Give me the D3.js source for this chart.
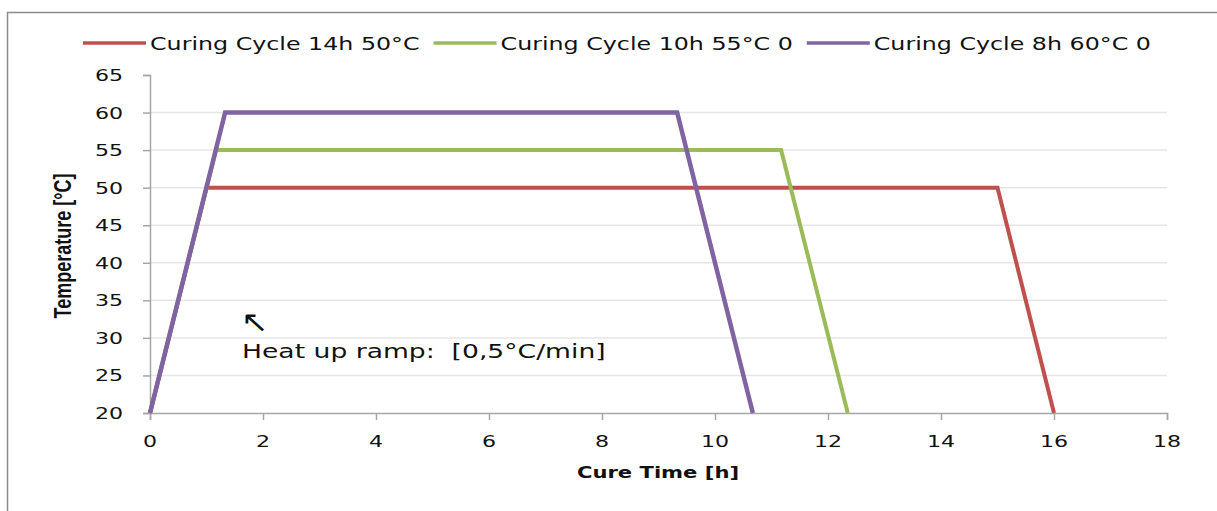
<!DOCTYPE html>
<html>
<head>
<meta charset="utf-8">
<script src="https://cdn.jsdelivr.net/npm/d3@7"></script>
<style>
  html, body { margin: 0; padding: 0; background: #fff; }
  svg { display: block; }
  text { fill: #111; }
</style>
</head>
<body>
<svg id="chart"></svg>
<script>
// series: time [h] and temperature [°C] at each corner
const seriesNames = ["Curing Cycle 14h 50°C", "Curing Cycle 10h 55°C 0", "Curing Cycle 8h 60°C 0"];
const seriesColors = ["#c0504d", "#9bbb59", "#8064a2"];
const timeRed = [0, 1, 15, 16];
const tempRed = [20, 50, 50, 20];
const timeGreen = [0, 1.17, 11.17, 12.35];
const tempGreen = [20, 55, 55, 20];
const timePurple = [0, 1.33, 9.33, 10.67];
const tempPurple = [20, 60, 60, 20];
const xTicks = [0, 2, 4, 6, 8, 10, 12, 14, 16, 18];
const yTicks = [20, 25, 30, 35, 40, 45, 50, 55, 60, 65];
const annotation = "Heat up ramp:  [0,5°C/min]";

const W = 1217, H = 511;
// the source picture is stretched sideways, so text is widened a bit
const stretch = 1.32;

const svg = d3.select("#chart").attr("width", W).attr("height", H);

const x = d3.scaleLinear().domain([0, 18]).range([150, 1167]);
const y = d3.scaleLinear().domain([20, 65]).range([413, 75]);

// outer frame (right and bottom edges fall outside the picture)
svg.append("rect")
  .attr("x", 7.5).attr("y", 12.5)
  .attr("width", W + 20).attr("height", H + 20)
  .attr("fill", "none")
  .attr("stroke", "#8c8c8c")
  .attr("stroke-width", 1.5);

function stretchedText(parent, px, py, str, anchor, sx) {
  return parent.append("text")
    .attr("transform", `translate(${px},${py}) scale(${sx || stretch},1)`)
    .attr("text-anchor", anchor || "start")
    .style("white-space", "pre")
    .text(str);
}

// horizontal grid lines (none on top value)
svg.append("g")
  .selectAll("line")
  .data(yTicks.filter((t) => t > 20 && t < 65))
  .join("line")
  .attr("x1", x(0)).attr("x2", x(18))
  .attr("y1", (d) => y(d)).attr("y2", (d) => y(d))
  .attr("stroke", "#e6e6e6")
  .attr("stroke-width", 1.5);

// y axis
const yAxis = svg.append("g")
  .attr("transform", `translate(${x(0)},0)`)
  .call(d3.axisLeft(y).tickValues(yTicks).tickSize(7).tickFormat(() => ""));
yAxis.select(".domain").attr("stroke", "#a6a6a6").attr("stroke-width", 1.5);
yAxis.selectAll(".tick line").attr("stroke", "#a6a6a6").attr("stroke-width", 1.5);

const yLabels = svg.append("g")
  .style("font-family", "'DejaVu Sans', Verdana, sans-serif")
  .style("font-size", "16px");
yTicks.forEach((t) => stretchedText(yLabels, 123, y(t) + 6, String(t), "end", 1.38));

// x axis
const xAxis = svg.append("g")
  .attr("transform", `translate(0,${y(20)})`)
  .call(d3.axisBottom(x).tickValues(xTicks).tickSize(7).tickSizeOuter(7).tickFormat(() => ""));
xAxis.select(".domain").attr("stroke", "#a6a6a6").attr("stroke-width", 1.5);
xAxis.selectAll(".tick line").attr("stroke", "#a6a6a6").attr("stroke-width", 1.5);

const xLabels = svg.append("g")
  .style("font-family", "'DejaVu Sans', Verdana, sans-serif")
  .style("font-size", "16px");
xTicks.forEach((t) => stretchedText(xLabels, x(t), 447, String(t), "middle", 1.38));

// axis titles
svg.append("text")
  .attr("transform", `translate(658,478) scale(${stretch},1)`)
  .attr("text-anchor", "middle")
  .style("font-family", "'DejaVu Sans', Verdana, sans-serif")
  .style("font-weight", "bold")
  .style("font-size", "16px")
  .text("Cure Time [h]");

svg.append("text")
  .attr("transform", `translate(71,246) scale(${stretch},1) rotate(-90)`)
  .attr("text-anchor", "middle")
  .style("font-family", "'Liberation Sans', Arial, sans-serif")
  .style("font-weight", "bold")
  .style("font-size", "18px")
  .text("Temperature [°C]");

// series lines
const line = d3.line()
  .x((d) => x(d[0]))
  .y((d) => y(d[1]));

const series = [
  d3.zip(timeRed, tempRed),
  d3.zip(timeGreen, tempGreen),
  d3.zip(timePurple, tempPurple)
];
const widths = [4, 4, 4.5];

svg.append("g")
  .selectAll("path")
  .data(series)
  .join("path")
  .attr("d", line)
  .attr("fill", "none")
  .attr("stroke", (d, i) => seriesColors[i])
  .attr("stroke-width", (d, i) => widths[i])
  .attr("stroke-linejoin", "miter");

// annotation
const note = svg.append("g")
  .style("font-family", "'DejaVu Sans', Verdana, sans-serif")
  .style("font-size", "19px");
stretchedText(note, 241, 332, "↖", "start", 1.1).style("font-size", "30px");
stretchedText(note, 242, 358, annotation, "start", 1.4);

// legend, laid out from left to right
const legend = svg.append("g")
  .style("font-family", "'DejaVu Sans', Verdana, sans-serif")
  .style("font-size", "18px");
let lx = 83;
seriesNames.forEach((name, i) => {
  legend.append("line")
    .attr("x1", lx).attr("x2", lx + 63)
    .attr("y1", 43).attr("y2", 43)
    .attr("stroke", seriesColors[i])
    .attr("stroke-width", 3.5);
  const t = stretchedText(legend, lx + 67, 50, name);
  lx += 67 + t.node().getComputedTextLength() * stretch + 14;
});
</script>
</body>
</html>
